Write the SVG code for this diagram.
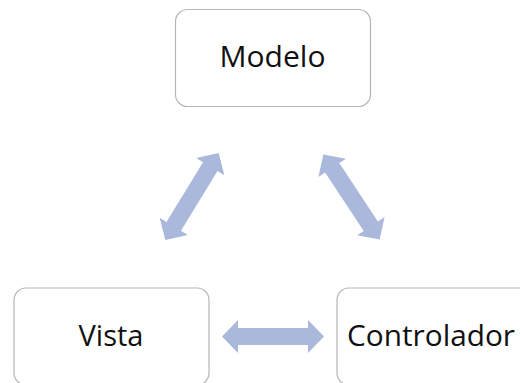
<svg xmlns="http://www.w3.org/2000/svg" width="520" height="383" viewBox="0 0 520 383">
<defs>
<style>
.box{fill:#ffffff;stroke:#b3b7bc;stroke-width:1.2}
.lbl{font-family:"Open Sans","Liberation Sans",sans-serif;font-size:29px;fill:#111111;text-anchor:middle}
.arr{fill:#aab8dc}
</style>
<polygon id="dbl" points="-51,0 -35,-16.5 -35,-8.5 35,-8.5 35,-16.5 51,0 35,16.5 35,8.5 -35,8.5 -35,16.5"/>
</defs>
<rect width="520" height="383" fill="#ffffff"/>
<g id="modelo">
<rect class="box" x="175.5" y="9.5" width="195" height="97" rx="12"/>
<text class="lbl" x="272.5" y="67" textLength="106" lengthAdjust="spacingAndGlyphs">Modelo</text>
</g>
<g id="vista">
<rect class="box" x="14" y="288" width="195" height="97" rx="12"/>
<text class="lbl" x="111" y="346" textLength="65" lengthAdjust="spacingAndGlyphs">Vista</text>
</g>
<g id="controlador">
<rect class="box" x="337" y="288" width="195" height="97" rx="12"/>
<text class="lbl" x="431" y="346" textLength="168" lengthAdjust="spacingAndGlyphs">Controlador</text>
</g>
<g id="connectors">
<use href="#dbl" class="arr" transform="translate(192,196.5) rotate(-58.5)"/>
<use href="#dbl" class="arr" transform="translate(351.5,197) rotate(56.5)"/>
<use href="#dbl" class="arr" transform="translate(273,336.5)"/>
</g>
</svg>
